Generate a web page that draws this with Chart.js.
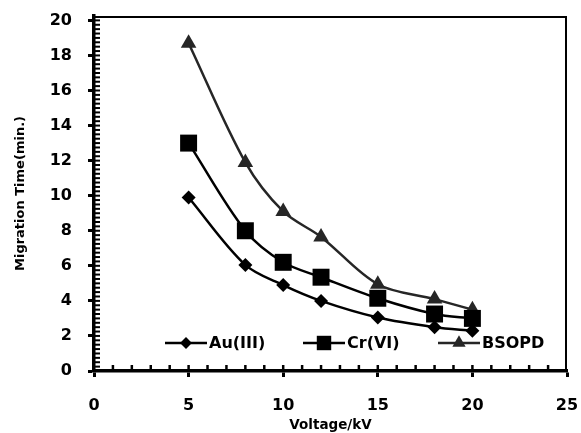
<!DOCTYPE html>
<html>
<head>
<meta charset="utf-8">
<script src="https://cdn.jsdelivr.net/npm/chart.js@4/dist/chart.umd.min.js"></script>
<style>
html,body{margin:0;padding:0;background:#fff;}
#wrap{width:581px;height:433px;position:relative;}
</style>
</head>
<body>
<div id="wrap"><canvas id="c" width="581" height="433"></canvas></div>
<script>
const voltage = [5, 8, 10, 12, 15, 18, 20];
const auIII = [9.9, 6.05, 4.9, 4.0, 3.05, 2.5, 2.3];
const crVI = [13.0, 8.0, 6.2, 5.35, 4.15, 3.25, 3.0];
const bsopd = [18.7, 11.9, 9.1, 7.65, 4.95, 4.1, 3.5];
const seriesNames = ['Au(III)', 'Cr(VI)', 'BSOPD'];
const xTicks = [0, 5, 10, 15, 20, 25];
const yTicks = [0, 2, 4, 6, 8, 10, 12, 14, 16, 18, 20];

const FONT = "'DejaVu Sans'";

function pts(ys){ return voltage.map((x,i)=>({x:x, y:ys[i]})); }

const frame = {
  id: 'frame',
  afterDraw(chart){
    const ctx = chart.ctx, ca = chart.chartArea;
    const xs = chart.scales.x, ys = chart.scales.y;
    ctx.save();
    ctx.setLineDash([]);
    ctx.fillStyle = '#000';
    ctx.fillRect(ca.left, ca.top, ca.right - ca.left, 2);
    ctx.fillRect(ca.right - 2, ca.top, 2, ca.bottom - ca.top);
    ctx.strokeStyle = '#000';
    ctx.lineWidth = 2.5;
    for (let v = 1; v < 25; v++){
      const px = xs.getPixelForValue(v);
      ctx.beginPath(); ctx.moveTo(px, ca.bottom); ctx.lineTo(px, ca.bottom - 6); ctx.stroke();
    }
    ctx.lineWidth = 2;
    for (let v = 0.25; v < 20.2; v += 0.25){
      const py = ys.getPixelForValue(v);
      ctx.beginPath(); ctx.moveTo(ca.left, py); ctx.lineTo(ca.left + 6, py); ctx.stroke();
    }
    const ly = 343;
    const starts = [165, 303, 438];
    ctx.font = "bold 16px " + FONT;
    ctx.textBaseline = 'middle';
    ctx.textAlign = 'left';
    chart.data.datasets.forEach((ds, i) => {
      const x0 = starts[i];
      ctx.strokeStyle = ds.borderColor;
      ctx.lineWidth = ds.borderWidth;
      ctx.beginPath(); ctx.moveTo(x0, ly); ctx.lineTo(x0 + 42, ly); ctx.stroke();
      ctx.fillStyle = ds.pointBackgroundColor;
      Chart.helpers.drawPoint(ctx, {pointStyle: ds.pointStyle, radius: ds.pointRadius * 0.85, borderWidth: 0}, x0 + 21, ly);
      ctx.fillStyle = '#000';
      ctx.fillText(ds.label, x0 + 44, ly + 1);
    });
    ctx.restore();
  }
};

const mk = (label, data, style, radius, color) => ({
  label: label, data: pts(data), borderColor: color, backgroundColor: color,
  pointBackgroundColor: color, pointBorderColor: color, pointBorderWidth: 0,
  pointStyle: style, pointRadius: radius, borderWidth: 2.5,
  tension: 0.33, fill: false
});

new Chart(document.getElementById('c'), {
  type: 'line',
  data: {
    datasets: [
      mk(seriesNames[0], auIII, 'rectRot', 7, '#000'),
      mk(seriesNames[1], crVI, 'rect', 12, '#000'),
      mk(seriesNames[2], bsopd, 'triangle', 9, '#262626')
    ]
  },
  options: {
    responsive: false,
    animation: false,
    layout: { padding: { top: 16, right: 14, left: 0, bottom: 0 } },
    plugins: { legend: { display: false }, tooltip: { enabled: false } },
    scales: {
      x: {
        type: 'linear', min: 0, max: 25,
        afterFit(s){ s.height = 62; s.paddingLeft = 0; s.paddingRight = 0; },
        afterBuildTicks(s){ s.ticks = xTicks.map(v => ({value: v})); },
        border: { display: true, color: '#000', width: 3.5 },
        grid: { display: true, drawOnChartArea: false, drawTicks: true, tickLength: 6, tickWidth: 3, tickColor: '#000' },
        ticks: { color: '#000', padding: 19, font: { family: FONT, size: 16, weight: 'bold' }, maxRotation: 0 },
        title: { display: true, text: 'Voltage/kV', color: '#000', font: { family: FONT, size: 13.5, weight: 'bold' }, padding: { top: 0, bottom: -1 } }
      },
      y: {
        type: 'linear', min: 0, max: 20.25,
        afterFit(s){ s.width = 94; s.paddingTop = 0; s.paddingBottom = 0; },
        afterBuildTicks(s){ s.ticks = yTicks.map(v => ({value: v})); },
        border: { display: true, color: '#000', width: 3.5 },
        grid: { display: true, drawOnChartArea: false, drawTicks: true, tickLength: 6, tickWidth: 3, tickColor: '#000' },
        ticks: { color: '#000', padding: 16, font: { family: FONT, size: 16, weight: 'bold' } },
        title: { display: true, text: 'Migration Time(min.)', color: '#000', font: { family: FONT, size: 13, weight: 'bold' }, padding: { top: 13, bottom: 0 } }
      }
    }
  },
  plugins: [frame]
});
</script>
</body>
</html>
